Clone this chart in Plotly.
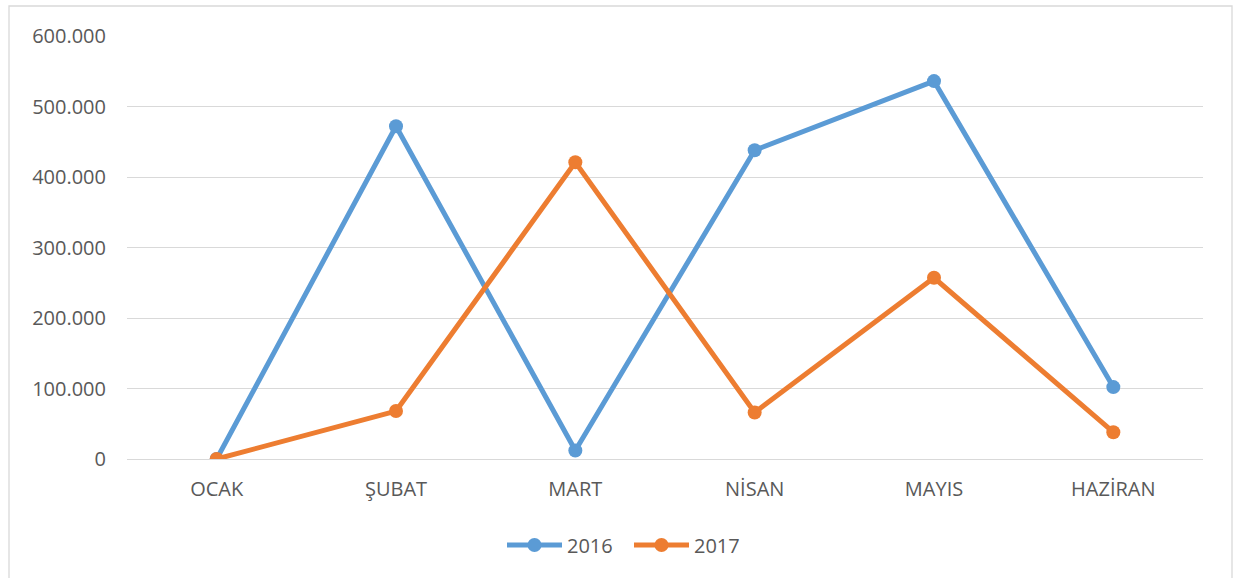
import plotly.graph_objects as go

months = ["OCAK", "ŞUBAT", "MART", "NİSAN", "MAYIS", "HAZİRAN"]
y2016 = [0, 472000, 12000, 438000, 536000, 102000]
y2017 = [0, 68000, 421000, 66000, 257000, 38000]
yticks = [0, 100000, 200000, 300000, 400000, 500000, 600000]

fig = go.Figure()
fig.add_trace(go.Scatter(x=months, y=y2016, name="2016", mode="lines+markers",
                         line=dict(color="#5B9BD5", width=5),
                         marker=dict(size=14, color="#5B9BD5")))
fig.add_trace(go.Scatter(x=months, y=y2017, name="2017", mode="lines+markers",
                         line=dict(color="#ED7D31", width=5),
                         marker=dict(size=14, color="#ED7D31")))

L, R, T, B = 127, 32, 36, 119
W, H = 1235, 578
pw, ph = W - L - R, H - T - B

def px(x):
    return (x - L) / pw

def py(y):
    return (H - B - y) / ph

fs = 20
fig.update_layout(
    width=W, height=H,
    margin=dict(l=L, r=R, t=T, b=B),
    paper_bgcolor="white", plot_bgcolor="white",
    separators=",.",
    font=dict(family="Open Sans", size=fs, color="#595959"),
    showlegend=True,
    legend=dict(orientation="h", x=px(502), xanchor="left", y=py(545), yanchor="middle",
                itemwidth=55, entrywidth=57, font=dict(size=fs, color="#595959")),
    xaxis=dict(range=[-0.5, 5.5], showgrid=False, showline=False, zeroline=False, ticks="",
               ticklabelstandoff=16, tickfont=dict(size=fs, color="#595959")),
    yaxis=dict(range=[0, 600000], tickvals=yticks, tickformat=",.0f",
               showgrid=True, gridcolor="#D9D9D9", gridwidth=1.3,
               zeroline=True, zerolinecolor="#D9D9D9", zerolinewidth=1.3,
               showline=False, ticks="", ticklabelstandoff=20,
               tickfont=dict(size=fs, color="#595959")),
    shapes=[dict(type="rect", xref="paper", yref="paper",
                 x0=px(9), x1=px(1232), y0=py(590), y1=py(6),
                 line=dict(color="#D9D9D9", width=1.3), fillcolor="rgba(0,0,0,0)",
                 layer="below")],
)

fig.write_html("out.html", config={"displayModeBar": False},
               post_script="document.body.style.margin='0';document.body.style.overflow='hidden';")
